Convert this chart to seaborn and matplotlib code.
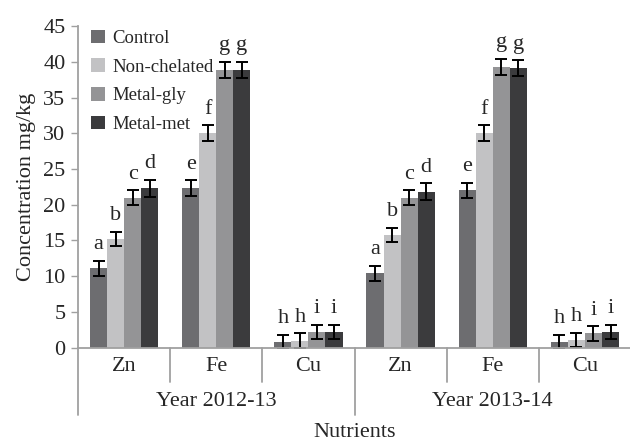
import pandas as pd
import matplotlib
matplotlib.use("Agg")
import matplotlib.pyplot as plt
import seaborn as sns

# --- data ---
years = ["Year 2012-13", "Year 2013-14"]
nutrients = ["Zn", "Fe", "Cu"]
treatments = ["Control", "Non-chelated", "Metal-gly", "Metal-met"]

control = [11.1, 22.3, 0.8, 10.4, 22.0, 0.8]
non_chelated = [15.2, 30.0, 1.0, 15.8, 30.0, 1.1]
metal_gly = [21.0, 38.9, 2.2, 21.0, 39.3, 2.0]
metal_met = [22.3, 38.9, 2.2, 21.8, 39.1, 2.2]

err_control = [1.1, 1.1, 1.0, 1.1, 1.1, 1.0]
err_non_chelated = [1.0, 1.1, 1.0, 1.0, 1.1, 1.0]
err_metal_gly = [1.0, 1.1, 1.0, 1.0, 1.1, 1.0]
err_metal_met = [1.2, 1.1, 1.0, 1.2, 1.1, 1.0]

let_control = ["a", "e", "h", "a", "e", "h"]
let_non_chelated = ["b", "f", "h", "b", "f", "h"]
let_metal_gly = ["c", "g", "i", "c", "g", "i"]
let_metal_met = ["d", "g", "i", "d", "g", "i"]

colors = ["#6d6d70", "#c2c2c4", "#949496", "#3b3b3d"]

# --- build long table ---
cats = [f"{y} {n}" for y in years for n in nutrients]
values = [control, non_chelated, metal_gly, metal_met]
errors = [err_control, err_non_chelated, err_metal_gly, err_metal_met]
letters = [let_control, let_non_chelated, let_metal_gly, let_metal_met]

rows = []
for t, vals in zip(treatments, values):
    for c, v in zip(cats, vals):
        rows.append({"cat": c, "treatment": t, "value": v})
df = pd.DataFrame(rows)

sns.set_style("white")
plt.rcParams["font.family"] = ["Liberation Serif", "DejaVu Serif"]
fs = 16

fig = plt.figure(figsize=(6.3, 4.42), dpi=100)
ax = fig.add_axes([0.1238, 0.2133, 0.8778, 0.7278])

sns.barplot(data=df, x="cat", y="value", hue="treatment", order=cats,
            hue_order=treatments, palette=colors, width=0.74,
            errorbar=None, saturation=1, linewidth=0, ax=ax)

# error bars and significance letters
for cont, errs, lets in zip(ax.containers, errors, letters):
    for bar, e, lt in zip(cont, errs, lets):
        xc = bar.get_x() + bar.get_width() / 2
        h = bar.get_height()
        ax.errorbar(xc, h, yerr=e, fmt="none", ecolor="black",
                    elinewidth=1.4, capsize=4.5, capthick=1.4)
        ax.text(xc, h + e + 0.9, lt, ha="center", va="bottom", fontsize=fs)

ax.set_xlim(-0.5, 5.5)
ax.set_ylim(0, 45)
ax.set_yticks(range(0, 46, 5))
ax.tick_params(axis="y", labelsize=fs, length=5, width=1, color="#a0a0a0",
               left=True, pad=4)
ax.set_xticks(range(6))
ax.set_xticklabels(nutrients * 2, fontsize=fs)
ax.tick_params(axis="x", length=0, pad=7)
ax.set_xlabel("")
ax.set_ylabel("Concentration mg/kg", fontsize=fs, labelpad=5)

for side in ["top", "right"]:
    ax.spines[side].set_visible(False)
for side in ["left", "bottom"]:
    ax.spines[side].set_color("#a0a0a0")
    ax.spines[side].set_linewidth(1.3)

# category separators and year labels under the axis
trans = ax.get_xaxis_transform()
for k in range(1, 6):
    bottom = -0.208 if k == 3 else -0.106
    ax.plot([k - 0.5, k - 0.5], [0, bottom], color="#a0a0a0", lw=1.3,
            transform=trans, clip_on=False)
for xe in [-0.5, 5.5]:
    ax.plot([xe, xe], [0, -0.208], color="#a0a0a0", lw=1.3,
            transform=trans, clip_on=False)
for i, y in enumerate(years):
    ax.text(1 + 3 * i, -0.168, y, transform=trans, ha="center", va="center",
            fontsize=fs)
ax.text(2.5, -0.263, "Nutrients", transform=trans, ha="center", va="center",
        fontsize=fs)

ax.legend(loc="upper left", bbox_to_anchor=(0.0, 1.03), frameon=False,
          fontsize=13.5, handlelength=0.72, handleheight=0.72,
          handletextpad=0.4, labelspacing=0.62, borderaxespad=0.3)

fig.savefig("out.png", dpi=100)
